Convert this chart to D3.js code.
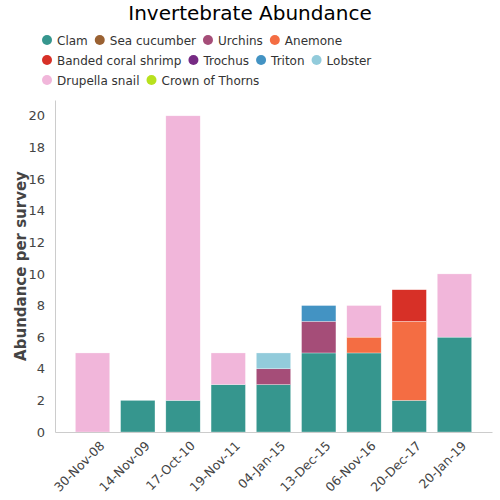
<!DOCTYPE html>
<html><head><meta charset="utf-8">
<script src="https://cdn.jsdelivr.net/npm/d3@7"></script>
<style>body{margin:0;background:#fff;font-family:"DejaVu Sans",sans-serif;}</style>
</head><body><svg id="c" width="500" height="500"></svg>
<script>
const dates = ["30-Nov-08","14-Nov-09","17-Oct-10","19-Nov-11","04-Jan-15","13-Dec-15","06-Nov-16","20-Dec-17","20-Jan-19"];
const species = ["Clam","Sea cucumber","Urchins","Anemone","Banded coral shrimp","Trochus","Triton","Lobster","Drupella snail","Crown of Thorns"];
const colors = ["#36968e","#9a6132","#a54d78","#f46d43","#d73027","#762a83","#4393c3","#92cbdb","#f1b6da","#b8e11e"];
const clam       = [0,2,2,3,3,5,5,2,6];
const seaCucumber= [0,0,0,0,0,0,0,0,0];
const urchins    = [0,0,0,0,1,2,0,0,0];
const anemone    = [0,0,0,0,0,0,1,5,0];
const shrimp     = [0,0,0,0,0,0,0,2,0];
const trochus    = [0,0,0,0,0,0,0,0,0];
const triton     = [0,0,0,0,0,1,0,0,0];
const lobster    = [0,0,0,0,1,0,0,0,0];
const drupella   = [5,0,18,2,0,0,2,0,4];
const cots       = [0,0,0,0,0,0,0,0,0];
const yTicks = [0,2,4,6,8,10,12,14,16,18,20];

const series = [clam,seaCucumber,urchins,anemone,shrimp,trochus,triton,lobster,drupella,cots];
const rows = dates.map((d,i)=>{const r={date:d}; species.forEach((s,j)=>r[s]=series[j][i]); return r;});
const stacked = d3.stack().keys(species)(rows);

const svg = d3.select("#c");
const m = {l:55,r:492,t:100,b:432};
const x = d3.scaleBand().domain(dates).range([m.l,m.r]).paddingInner(0.24).paddingOuter(0.45);
const y = d3.scaleLinear().domain([0,21]).range([m.b,m.t]);
const color = d3.scaleOrdinal().domain(species).range(colors);

svg.append("text").attr("x",250).attr("y",20).attr("text-anchor","middle")
  .attr("font-size",20).attr("fill","#000").text("Invertebrate Abundance");

// legend
const legRows = [[0,1,2,3],[4,5,6,7],[8,9]];
const lg = svg.append("g").attr("font-size",12).attr("fill","#333");
legRows.forEach((row,ri)=>{
  let cx = 47;
  row.forEach(j=>{
    lg.append("circle").attr("cx",cx).attr("cy",40+ri*20).attr("r",5).attr("fill",colors[j]);
    const t = lg.append("text").attr("x",cx+10).attr("y",44.5+ri*20).attr("fill","#333").text(species[j]);
    const w = t.node().getComputedTextLength();
    cx += 10 + w + 12;
  });
});

// bars
svg.append("g").selectAll("g").data(stacked).join("g").attr("fill",d=>color(d.key))
  .selectAll("rect").data(d=>d).join("rect")
  .attr("x",d=>x(d.data.date)).attr("width",x.bandwidth())
  .attr("y",d=>y(d[1])).attr("height",d=>Math.max(0,y(d[0])-y(d[1])))
  .attr("stroke","#fff").attr("stroke-width",0.5).attr("stroke-opacity",0.6);

// y axis
const ya = svg.append("g").attr("transform",`translate(${m.l},0)`)
  .call(d3.axisLeft(y).tickValues(yTicks).tickSize(0).tickPadding(10));
ya.select(".domain").attr("stroke","#ccc");
ya.selectAll("text").attr("font-size",13).attr("fill","#444").attr("font-family","DejaVu Sans");

// x axis
const xa = svg.append("g").attr("transform",`translate(0,${m.b})`)
  .call(d3.axisBottom(x).tickSize(0).tickPadding(8));
xa.select(".domain").attr("stroke","#ccc");
xa.selectAll("text").attr("font-size",12.5).attr("fill","#444").attr("font-family","DejaVu Sans")
  .attr("text-anchor","end").attr("dx","-0.1em").attr("dy","0.9em")
  .attr("transform","rotate(-45)");

svg.append("text").attr("transform","translate(26,266) rotate(-90)").attr("text-anchor","middle")
  .attr("font-size",15).attr("font-weight","bold").attr("fill","#444").text("Abundance per survey");
</script></body></html>
